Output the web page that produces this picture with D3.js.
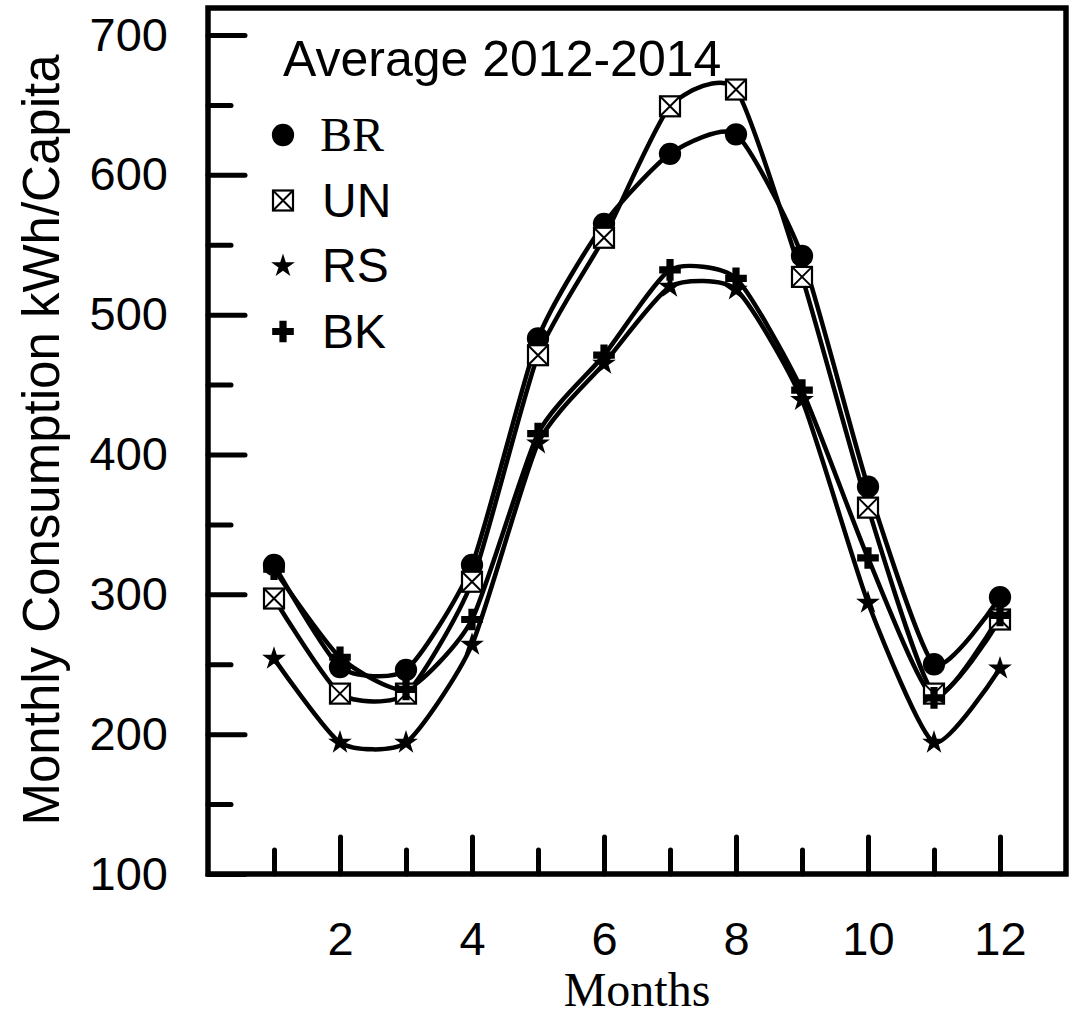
<!DOCTYPE html>
<html>
<head>
<meta charset="utf-8">
<script src="https://cdn.jsdelivr.net/npm/d3@7"></script>
<style>
  body { margin: 0; background: #fff; }
  svg { display: block; }
</style>
</head>
<body>
<div id="chart"></div>
<script>
// monthly averages 2012-2014
const months = [1, 2, 3, 4, 5, 6, 7, 8, 9, 10, 11, 12]
const BR = [321, 248, 246, 321, 483, 565, 615, 629, 542, 377, 250, 298]
const UN = [297, 229, 229, 309, 471, 555, 649, 661, 527, 362, 229, 282]
const RS = [254, 194, 194, 264, 408, 465, 520, 518, 439, 294, 194, 247]
const BK = [318, 255, 232, 282, 415, 471, 532, 526, 446, 326, 226, 285]

const seriesNames = ["BR", "UN", "RS", "BK"]
const yMajor = [100, 200, 300, 400, 500, 600, 700]
const yMinor = [150, 250, 350, 450, 550, 650]
const xMajor = [2, 4, 6, 8, 10, 12]
const xMinor = [1, 3, 5, 7, 9, 11]

const W = 1076, H = 1015
const plotLeft = 208, plotRight = 1066, plotTop = 8, plotBottom = 874
const sans = "'Liberation Sans', Arial, sans-serif"
const serif = "'Liberation Serif', 'Times New Roman', serif"

const svg = d3.select("#chart").append("svg")
    .attr("width", W)
    .attr("height", H)
    .attr("viewBox", [0, 0, W, H])

const x = d3.scaleLinear().domain([0, 13]).range([plotLeft, plotRight])
const y = d3.scaleLinear().domain([100, 700]).range([plotBottom, 35])

// ticks (inward, major + minor)
function tickStyle(g) {
  g.select(".domain").remove()
  g.selectAll(".tick line")
    .attr("stroke", "#000")
    .attr("stroke-width", 5)
    .attr("stroke-linecap", "round")
  g.selectAll(".tick text")
    .attr("fill", "#000")
    .style("font-family", sans)
    .style("font-size", "47px")
}

svg.append("g")
    .attr("transform", `translate(${plotLeft},0)`)
    .call(d3.axisLeft(y).tickValues(yMajor).tickSize(-37).tickPadding(40).tickFormat(d3.format("d")))
    .call(tickStyle)

svg.append("g")
    .attr("transform", `translate(${plotLeft},0)`)
    .call(d3.axisLeft(y).tickValues(yMinor).tickSize(-23).tickFormat(""))
    .call(tickStyle)

svg.append("g")
    .attr("transform", `translate(0,${plotBottom})`)
    .call(d3.axisBottom(x).tickValues(xMajor).tickSize(-37).tickPadding(48).tickFormat(d3.format("d")))
    .call(tickStyle)

svg.append("g")
    .attr("transform", `translate(0,${plotBottom})`)
    .call(d3.axisBottom(x).tickValues(xMinor).tickSize(-24).tickFormat(""))
    .call(tickStyle)

// frame
svg.append("rect")
    .attr("x", plotLeft)
    .attr("y", plotTop)
    .attr("width", plotRight - plotLeft)
    .attr("height", plotBottom - plotTop)
    .attr("fill", "none")
    .attr("stroke", "#000")
    .attr("stroke-width", 5.5)

// curves
const line = d3.line()
    .x((d, i) => x(months[i]))
    .y(d => y(d))
    .curve(d3.curveCardinal.tension(0.4))

const data = [BR, UN, RS, BK]

svg.append("g")
  .selectAll("path")
  .data(data)
  .join("path")
    .attr("fill", "none")
    .attr("stroke", "#000")
    .attr("stroke-width", 4.5)
    .attr("d", line)

// marker shapes
function drawMarker(g, name) {
  if (name === "BR") {
    g.append("path").attr("d", d3.symbol(d3.symbolCircle, 390)()).attr("fill", "#000")
  } else if (name === "UN") {
    const h = 10
    g.append("rect")
      .attr("x", -h).attr("y", -h).attr("width", 2 * h).attr("height", 2 * h)
      .attr("fill", "#fff").attr("stroke", "#000").attr("stroke-width", 2.2)
    g.append("path")
      .attr("d", `M${-h},${-h}L${h},${h}M${h},${-h}L${-h},${h}`)
      .attr("stroke", "#000").attr("stroke-width", 2)
  } else if (name === "RS") {
    g.append("path").attr("d", d3.symbol(d3.symbolStar, 175)()).attr("fill", "#000")
  } else {
    g.append("path").attr("d", d3.symbol(d3.symbolCross, 260)()).attr("fill", "#000")
  }
}

data.forEach((vals, k) => {
  svg.append("g")
    .selectAll("g")
    .data(vals)
    .join("g")
      .attr("transform", (d, i) => `translate(${x(months[i])},${y(d)})`)
      .each(function() { drawMarker(d3.select(this), seriesNames[k]) })
})

// legend
svg.append("text")
    .attr("x", 283)
    .attr("y", 76)
    .style("font-family", sans)
    .style("font-size", "50px")
    .text("Average 2012-2014")

seriesNames.forEach((name, i) => {
  const cy = 135 + i * 65.5
  const g = svg.append("g").attr("transform", `translate(283,${cy})`)
  drawMarker(g, name)
  svg.append("text")
    .attr("x", name === "BR" ? 320 : 322)
    .attr("y", cy + 16)
    .style("font-family", name === "BR" ? serif : sans)
    .style("font-size", "48px")
    .text(name)
})

// axis titles
svg.append("text")
    .attr("transform", "translate(59,440) rotate(-90)")
    .attr("text-anchor", "middle")
    .style("font-family", sans)
    .style("font-size", "51px")
    .text("Monthly Consumption kWh/Capita")

svg.append("text")
    .attr("x", (plotLeft + plotRight) / 2)
    .attr("y", 1006)
    .attr("text-anchor", "middle")
    .style("font-family", serif)
    .style("font-size", "48px")
    .text("Months")
</script>
</body>
</html>
